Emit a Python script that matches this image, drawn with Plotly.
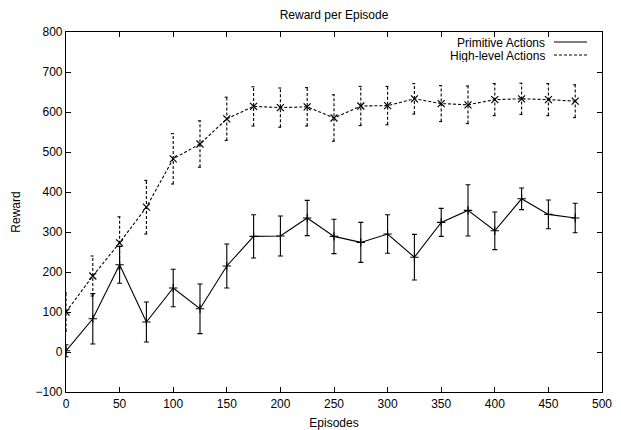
import plotly.graph_objects as go

episodes = [0, 25, 50, 75, 100, 125, 150, 175, 200, 225, 250, 275, 300, 325, 350, 375, 400, 425, 450, 475]

prim_mean = [3, 83, 218, 75, 160, 108, 215, 289, 290, 335, 289, 274, 295, 237, 324, 354, 303, 383, 344, 335]
prim_err = [15, 63, 46, 50, 47, 62, 55, 54, 50, 44, 43, 50, 48, 57, 35, 64, 47, 27, 36, 37]

high_mean = [100, 190, 273, 362, 483, 520, 583, 614, 611, 613, 585, 615, 616, 633, 621, 618, 631, 633, 631, 627]
high_err = [48, 50, 65, 67, 63, 58, 54, 49, 49, 48, 58, 49, 48, 38, 45, 47, 40, 39, 40, 41]

x_ticks = [0, 50, 100, 150, 200, 250, 300, 350, 400, 450, 500]
y_ticks = [-100, 0, 100, 200, 300, 400, 500, 600, 700, 800]

FONT = "Liberation Sans, Arial, Helvetica, sans-serif"
FS = 12
CAP = 2.0  # half cap width in x data units

fig = go.Figure()

# Primitive actions: solid line with error bars
fig.add_trace(go.Scatter(
    x=episodes, y=prim_mean, mode="lines+markers", name="Primitive Actions",
    line=dict(color="black", width=1.1),
    marker=dict(symbol="cross-thin-open", size=6, line=dict(color="black", width=1.1)),
    error_y=dict(type="data", array=prim_err, visible=True, color="black", thickness=1.1, width=2.5),
    showlegend=False,
))

# High-level actions: dashed error bars built from data
ex, ey = [], []
for x, m, e in zip(episodes, high_mean, high_err):
    lo, hi = m - e, m + e
    ex += [x, x, None, x - CAP, x + CAP, None, x - CAP, x + CAP, None]
    ey += [lo, hi, None, lo, lo, None, hi, hi, None]
fig.add_trace(go.Scatter(
    x=ex, y=ey, mode="lines", line=dict(color="black", width=1.1, dash="3px,2px"),
    showlegend=False, hoverinfo="skip",
))
fig.add_trace(go.Scatter(
    x=episodes, y=high_mean, mode="lines+markers", name="High-level Actions",
    line=dict(color="black", width=1.1, dash="3px,2px"),
    marker=dict(symbol="x-thin-open", size=7, line=dict(color="black", width=1.2)),
    showlegend=False,
))

# Legend (text right-aligned, sample on the right, like gnuplot)
legend_items = [("Primitive Actions", "solid", 42.5), ("High-level Actions", "3px,2px", 55.5)]
for label, dash, ypx in legend_items:
    yp = 1 - (ypx - 32.5) / 360.0
    fig.add_annotation(xref="paper", yref="paper", x=(546 - 66) / 536.0, y=yp,
                       text=label, showarrow=False, xanchor="right", yanchor="middle",
                       height=13, valign="middle", borderpad=0,
                       font=dict(family=FONT, size=FS, color="black"))
    fig.add_shape(type="line", xref="paper", yref="paper",
                  x0=(554 - 66) / 536.0, x1=(587 - 66) / 536.0, y0=yp, y1=yp,
                  line=dict(color="black", width=1.1, dash=dash))

axis_common = dict(
    showline=True, linecolor="black", linewidth=1.2, mirror="allticks",
    ticks="inside", ticklen=5, tickwidth=1, tickcolor="black",
    showgrid=False, zeroline=False, automargin=False,
    tickfont=dict(family=FONT, size=FS, color="black"),
)

fig.update_layout(
    width=621, height=430,
    margin=dict(l=66, r=19, t=32, b=38),
    paper_bgcolor="white", plot_bgcolor="white",
    title=dict(text="Reward per Episode", x=334 / 621, xanchor="center", y=1 - 15 / 430, yanchor="middle",
               font=dict(family=FONT, size=FS, color="black")),
    xaxis=dict(range=[0, 500], tickvals=x_ticks, title=dict(text="Episodes", standoff=9,
               font=dict(family=FONT, size=FS, color="black")), **axis_common),
    yaxis=dict(range=[-100, 800], tickvals=y_ticks, title=dict(text="Reward", standoff=12,
               font=dict(family=FONT, size=FS, color="black")), **axis_common),
    showlegend=False,
)

fig.write_html("out.html", config={"displayModeBar": False},
               post_script="document.body.style.margin='0';document.body.style.overflow='hidden';")
